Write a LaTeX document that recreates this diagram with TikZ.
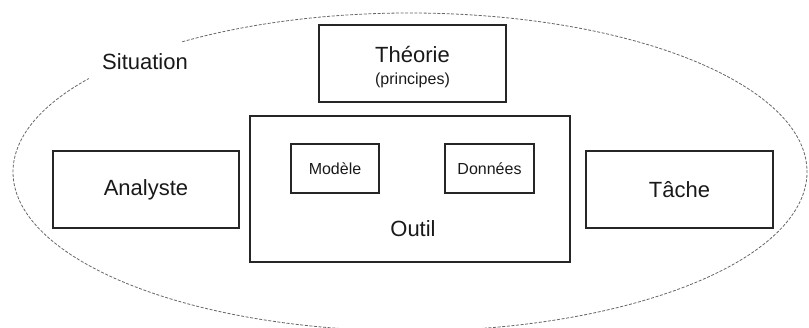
\documentclass[tikz,border=0pt]{standalone}
\usepackage{fontspec}
\setmainfont{Liberation Sans}
\usetikzlibrary{calc}
\begin{document}
\begin{tikzpicture}[x=1pt,y=-1pt,
  bigbox/.style={draw=black!85, line width=1.4pt, rectangle, inner sep=0pt},
  bigtxt/.style={font=\fontsize{22}{26}\selectfont, text=black!90, inner sep=0pt},
  smalltxt/.style={font=\fontsize{16}{19}\selectfont, text=black!90, inner sep=0pt},
  situ/.style={draw=black!60, line width=0.8pt, dash pattern=on 3pt off 1.6pt}]
\useasboundingbox (0,0) rectangle (809,327);
\clip (0,0) rectangle (809,327);
% situation ellipse (open near the label)
\coordinate (ec) at (410,172);
\draw[situ] ($(ec)+(235:397 and 159)$) arc[start angle=235, end angle=576, x radius=397, y radius=159];
\node[bigtxt] (situation) at (145,62) {Situation};
% boxes
\node[bigbox, minimum width=186pt, minimum height=77pt] (analyste) at (146,189.5) {};
\node[bigtxt] at (analyste.center) {Analyste};
\node[bigbox, minimum width=187pt, minimum height=77pt] (tache) at (679.5,189.5) {};
\node[bigtxt] at (tache.center) {Tâche};
\node[bigbox, minimum width=187pt, minimum height=77pt] (theorie) at (412.5,63.5) {};
\node[bigtxt] (theorietxt) at (412.5,55) {Théorie};
\node[smalltxt] (principes) at (412.5,80) {(principes)};
\node[bigbox, minimum width=320pt, minimum height=146pt] (outil) at (410,189) {};
\node[bigtxt] (outiltxt) at (413,229) {Outil};
\node[bigbox, line width=1.3pt, minimum width=88pt, minimum height=49pt] (modele) at (335,168.5) {};
\node[smalltxt] at (modele.center) {Modèle};
\node[bigbox, line width=1.3pt, minimum width=89pt, minimum height=49pt] (donnees) at (489.5,168.5) {};
\node[smalltxt] at (donnees.center) {Données};
\end{tikzpicture}
\end{document}
